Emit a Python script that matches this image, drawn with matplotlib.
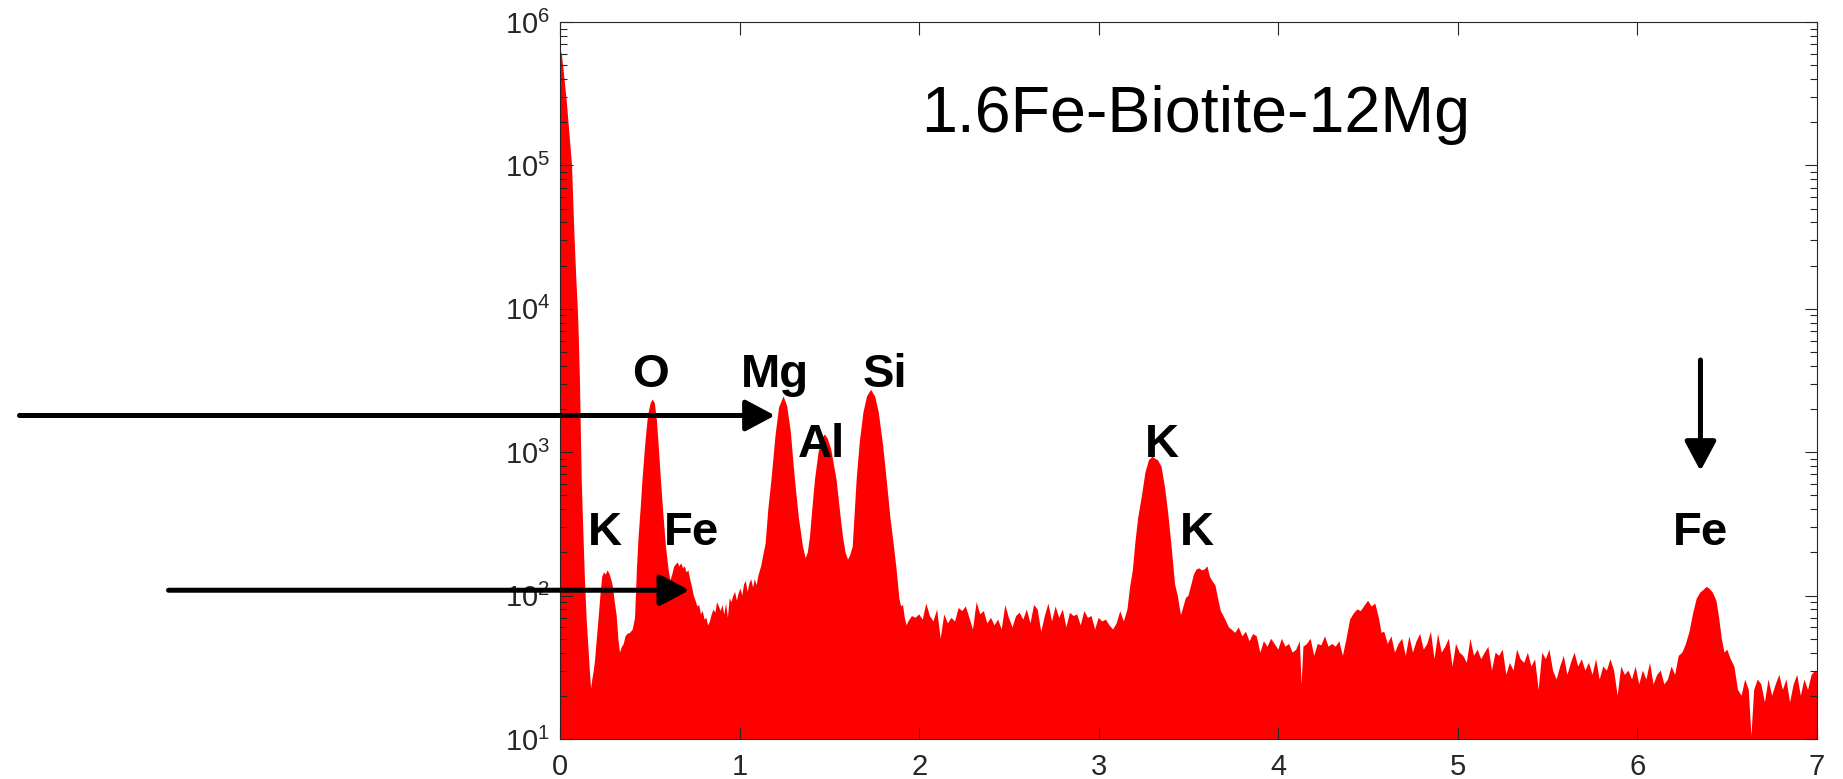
import numpy as np
import matplotlib
matplotlib.use("Agg")
import matplotlib.pyplot as plt

plt.rcParams['font.family'] = 'Liberation Sans'
plt.rcParams['mathtext.fontset'] = 'custom'
plt.rcParams['mathtext.rm'] = 'Liberation Sans'
plt.rcParams['mathtext.it'] = 'Liberation Sans:italic'
plt.rcParams['mathtext.bf'] = 'Liberation Sans:bold'

# EDS spectrum (energy in keV, counts)
energy_low = [0.000, 0.009, 0.020, 0.037, 0.052, 0.067, 0.080, 0.090, 0.099, 0.104,
              0.111, 0.121, 0.130, 0.139, 0.148, 0.158, 0.166, 0.173, 0.180, 0.188,
              0.195, 0.205, 0.215, 0.225, 0.235, 0.245, 0.255, 0.265, 0.275, 0.285,
              0.295, 0.305, 0.316, 0.325, 0.334, 0.345, 0.355, 0.365, 0.375, 0.390,
              0.405, 0.418, 0.428, 0.438, 0.450, 0.460, 0.475, 0.490, 0.505, 0.516,
              0.528, 0.540, 0.552, 0.562, 0.575, 0.590, 0.605, 0.615, 0.625, 0.635,
              0.645, 0.655, 0.665, 0.675, 0.685, 0.695, 0.705, 0.715, 0.725, 0.735,
              0.745, 0.755, 0.765, 0.775, 0.785, 0.795, 0.805, 0.815, 0.825, 0.835,
              0.845, 0.855, 0.865, 0.875, 0.885, 0.895, 0.905, 0.915, 0.925, 0.935,
              0.945, 0.955, 0.965, 0.975, 0.985, 0.995, 1.005, 1.015, 1.025, 1.035,
              1.045, 1.055, 1.065, 1.075, 1.085, 1.095, 1.105]
counts_low = [5.5e5, 6.2e5, 4.6e5, 2.86e5, 1.7e5, 1.0e5, 3.4e4, 1.7e4, 1.0e4, 6800,
              3200, 640, 280, 128, 70, 44, 30, 22.5, 26, 30,
              35, 50, 70, 100, 135, 145, 140, 150, 142, 130,
              115, 90, 72, 50, 40, 44, 46, 52, 54, 55,
              58, 70, 150, 260, 420, 660, 1150, 1800, 2200, 2330,
              2200, 1650, 1000, 640, 380, 220, 150, 128, 140, 158,
              165, 170, 160, 168, 155, 160, 145, 150, 130, 115,
              100, 92, 84, 86, 74, 78, 68, 70, 62, 66,
              74, 80, 76, 90, 84, 78, 86, 74, 88, 70,
              96, 90, 100, 106, 92, 104, 112, 100, 120, 126,
              106, 122, 130, 114, 130, 118, 138]

energy_mg_al_si = [1.120, 1.135, 1.145, 1.160, 1.178, 1.200, 1.220, 1.245, 1.265, 1.285,
                   1.308, 1.330, 1.353, 1.368, 1.380, 1.392, 1.405, 1.420, 1.440, 1.460,
                   1.475, 1.490, 1.510, 1.540, 1.560, 1.576, 1.590, 1.604, 1.615, 1.630,
                   1.652, 1.670, 1.690, 1.710, 1.732, 1.755, 1.775, 1.800, 1.819, 1.840,
                   1.860, 1.875, 1.890, 1.900, 1.910, 1.920, 1.930, 1.940]
counts_mg_al_si = [160, 200, 230, 400, 650, 1300, 2050, 2450, 2100, 1400,
                   650, 350, 220, 182, 200, 257, 400, 645, 1000, 1250,
                   1330, 1250, 1050, 645, 380, 257, 200, 178, 190, 219,
                   645, 1200, 1900, 2450, 2720, 2450, 1900, 1100, 645, 350,
                   219, 150, 95, 84, 86, 70, 62, 66]

energy_mid = [1.96, 1.98, 2.00, 2.02, 2.04, 2.06, 2.08, 2.10, 2.12, 2.14,
              2.16, 2.18, 2.20, 2.22, 2.24, 2.26, 2.28, 2.30, 2.32, 2.34,
              2.36, 2.38, 2.40, 2.42, 2.44, 2.46, 2.48, 2.50, 2.52, 2.54,
              2.56, 2.58, 2.60, 2.62, 2.64, 2.66, 2.68, 2.70, 2.72, 2.74,
              2.76, 2.78, 2.80, 2.82, 2.84, 2.86, 2.88, 2.90, 2.92, 2.94,
              2.96, 2.98, 3.00, 3.02, 3.04, 3.06, 3.08, 3.10, 3.12, 3.14]
counts_mid = [72, 70, 74, 68, 88, 72, 66, 80, 50, 74,
              64, 70, 66, 82, 78, 84, 70, 58, 90, 74,
              78, 64, 70, 62, 68, 58, 86, 70, 60, 72,
              76, 68, 80, 64, 86, 80, 56, 72, 88, 66,
              84, 70, 80, 60, 76, 72, 74, 62, 78, 70,
              72, 58, 70, 66, 68, 62, 58, 64, 78, 66]

energy_k = [3.160, 3.175, 3.190, 3.205, 3.220, 3.240, 3.260, 3.280, 3.300, 3.315,
            3.330, 3.350, 3.370, 3.387, 3.406, 3.425, 3.440, 3.458, 3.470, 3.485,
            3.500, 3.515, 3.530, 3.545, 3.560, 3.575, 3.590, 3.605, 3.620, 3.635,
            3.650, 3.665, 3.680, 3.695, 3.710, 3.725]
counts_k = [80, 115, 150, 240, 350, 490, 720, 880, 930, 900,
            880, 790, 560, 375, 219, 120, 100, 73, 82, 96,
            100, 118, 140, 152, 155, 150, 152, 160, 135, 125,
            118, 95, 78, 72, 66, 60]

energy_high = [3.74, 3.76, 3.78, 3.80, 3.82, 3.84, 3.86, 3.88, 3.90, 3.92,
               3.94, 3.96, 3.98, 4.00, 4.02, 4.04, 4.06, 4.08, 4.10, 4.12,
               4.13, 4.14, 4.16, 4.18, 4.20, 4.22, 4.24, 4.26, 4.28, 4.30,
               4.32, 4.34, 4.36, 4.38, 4.40, 4.42, 4.44, 4.46, 4.48, 4.50,
               4.52, 4.54, 4.56, 4.575, 4.59, 4.61, 4.63, 4.65, 4.67, 4.69,
               4.71, 4.73, 4.75, 4.77, 4.79, 4.81, 4.83, 4.85, 4.87, 4.89,
               4.91, 4.93, 4.95, 4.97, 4.99, 5.01, 5.03, 5.05, 5.07, 5.09,
               5.11, 5.13, 5.15, 5.17, 5.19, 5.21, 5.23, 5.25, 5.27, 5.29,
               5.31, 5.33, 5.35, 5.37, 5.39, 5.41, 5.43, 5.45, 5.47, 5.49,
               5.51, 5.53, 5.55, 5.57, 5.59, 5.61, 5.63, 5.65, 5.67, 5.69,
               5.71, 5.73, 5.75, 5.77, 5.79, 5.81, 5.83, 5.85, 5.87, 5.89,
               5.91, 5.93, 5.95, 5.97, 5.99, 6.01, 6.03, 6.05, 6.07, 6.09,
               6.11, 6.13, 6.15, 6.17, 6.19, 6.21]
counts_high = [58, 55, 60, 52, 56, 48, 54, 52, 40, 48,
               44, 50, 46, 42, 50, 44, 46, 40, 42, 48,
               24, 44, 46, 50, 38, 46, 45, 52, 44, 46,
               44, 48, 38, 50, 68, 75, 80, 78, 85, 92,
               84, 88, 70, 55, 56, 46, 52, 40, 46, 50,
               38, 52, 40, 48, 54, 42, 46, 56, 36, 54,
               40, 44, 50, 32, 46, 40, 38, 34, 50, 38,
               42, 36, 40, 44, 30, 40, 38, 42, 28, 34,
               30, 42, 36, 34, 40, 32, 36, 22, 40, 36,
               42, 30, 26, 32, 38, 28, 34, 40, 32, 36,
               30, 34, 28, 36, 26, 32, 30, 36, 30, 20,
               32, 28, 30, 26, 32, 24, 30, 26, 34, 24,
               28, 30, 24, 26, 32, 28]

energy_fe = [6.23, 6.25, 6.27, 6.29, 6.31, 6.33, 6.35, 6.37, 6.385, 6.40,
             6.42, 6.44, 6.455, 6.47, 6.485, 6.50, 6.52, 6.54, 6.56, 6.58,
             6.60, 6.62, 6.635, 6.65, 6.67, 6.69, 6.71, 6.73, 6.75, 6.77,
             6.79, 6.81, 6.83, 6.85, 6.87, 6.89, 6.91, 6.93, 6.95, 6.97,
             6.99, 7.00]
counts_fe = [38, 40, 46, 56, 75, 95, 105, 110, 115, 112,
             105, 92, 70, 50, 40, 42, 36, 32, 22, 20,
             26, 22, 10.5, 22, 26, 24, 18, 26, 20, 24,
             28, 22, 26, 18, 24, 28, 20, 26, 22, 28,
             30, 29]

# element labels: (text, energy, counts at baseline)
label_text = ['O', 'Mg', 'Si', 'Al', 'K', 'Fe', 'K', 'K', 'Fe']
label_x = [0.504, 1.197, 1.810, 1.456, 0.251, 0.735, 3.352, 3.545, 6.351]
label_y = [2850, 2850, 2850, 927, 225, 225, 927, 225, 225]

title_text = '1.6Fe-Biotite-12Mg'

energy = np.concatenate([energy_low, energy_mg_al_si, energy_mid, energy_k,
                         energy_high, energy_fe])
counts = np.concatenate([counts_low, counts_mg_al_si, counts_mid, counts_k,
                         counts_high, counts_fe])

fig = plt.figure(figsize=(18.43, 7.79), dpi=100)
ax = fig.add_axes([560 / 1843, 40 / 779, 1257 / 1843, 717 / 779])

ax.fill_between(energy, counts, 1, color='#ff0000', linewidth=0)

ax.set_yscale('log')
ax.set_xlim(0, 7)
ax.set_ylim(10, 1e6)
ax.set_xticks(range(8))
ax.minorticks_on()
ax.xaxis.set_minor_locator(matplotlib.ticker.NullLocator())

ax.tick_params(which='both', direction='in', top=True, right=True,
               color='#262626', width=0.8, labelsize=21, labelcolor='#262626')
ax.tick_params(which='major', length=9)
ax.tick_params(which='minor', length=5)
ax.tick_params(axis='y', pad=7)
ax.tick_params(axis='x', pad=10)
for sp in ax.spines.values():
    sp.set_color('#262626')
    sp.set_linewidth(0.8)

for t, x, y in zip(label_text, label_x, label_y):
    ax.text(x, y, t, fontsize=34, fontweight='bold', ha='center', va='baseline',
            color='black')

ax.text(3.538, 1.72e5, title_text, fontsize=46.5, ha='center', va='baseline',
        color='black')

# arrows
arrow_kw = dict(arrowstyle='-|>,head_length=0.6,head_width=0.32', color='black',
                lw=3.6, mutation_scale=30, shrinkA=0, shrinkB=0)
ax.annotate('', xy=(1.197, 1803), xytext=(-3.01, 1803),
            arrowprops=arrow_kw, annotation_clip=False)
ax.annotate('', xy=(0.72, 109), xytext=(-2.18, 109),
            arrowprops=arrow_kw, annotation_clip=False)
ax.annotate('', xy=(6.351, 740), xytext=(6.351, 4395),
            arrowprops=arrow_kw, annotation_clip=False)

fig.savefig('out.png', dpi=100)
